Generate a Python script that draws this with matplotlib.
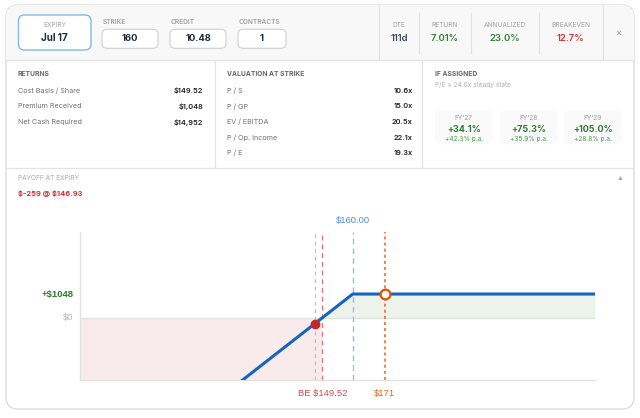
import numpy as np
import matplotlib
matplotlib.use("Agg")
import matplotlib.pyplot as plt
from matplotlib.patches import FancyBboxPatch, Rectangle

plt.rcParams['font.family'] = ['Inter', 'DejaVu Sans']

# inputs row
input_labels = ['STRIKE', 'CREDIT', 'CONTRACTS']
input_values = ['160', '10.48', '1']
expiry = 'Jul 17'

# summary stats
stat_labels = ['DTE', 'RETURN', 'ANNUALIZED', 'BREAKEVEN']
stat_values = ['111d', '7.01%', '23.0%', '12.7%']
stat_colors = ['#3b4a5e', '#2e7d32', '#2e7d32', '#d32f2f']

# returns table
returns_labels = ['Cost Basis / Share', 'Premium Received', 'Net Cash Required']
returns_values = ['$149.52', '$1,048', '$14,952']

# valuation table
val_labels = ['P / S', 'P / GP', 'EV / EBITDA', 'P / Op. Income', 'P / E']
val_values = ['10.6x', '15.0x', '20.5x', '22.1x', '19.3x']

# if assigned
fy_labels = ["FY'27", "FY'28", "FY'29"]
fy_total = ['+34.1%', '+75.3%', '+105.0%']
fy_pa = ['+42.3% p.a.', '+35.9% p.a.', '+28.8% p.a.']

# payoff
strike = 160.0
credit = 10.48
contracts = 1
breakeven = 149.52
current_price = 146.93
target_price = 171.0
price_lo, price_hi = 66.0, 243.5
pnl_lo, pnl_hi = -2725, 3800

fig = plt.figure(figsize=(6.4, 4.18), dpi=100)
fig.patch.set_facecolor('white')
ui = fig.add_axes([0, 0, 1, 1])
ui.set_xlim(0, 640)
ui.set_ylim(418, 0)
ui.axis('off')

line_c = '#e3e3e3'
card = FancyBboxPatch((6, 5), 628, 404, boxstyle='round,pad=0,rounding_size=12',
                      facecolor='white', edgecolor='#d9d9d9', lw=0.9, zorder=1)
ui.add_patch(card)
hdr = Rectangle((6, 5), 628, 54.5, facecolor='#f8f8f8', edgecolor='none', zorder=1.5)
ui.add_patch(hdr)
hdr.set_clip_path(card)

ui.plot([6, 634], [59.5, 59.5], color=line_c, lw=0.9, zorder=2)
ui.plot([6, 634], [168, 168], color=line_c, lw=0.9, zorder=2)
for x in [379, 603]:
    ui.plot([x, x], [5, 59.5], color=line_c, lw=0.9, zorder=2)
for x in [419, 471, 539]:
    ui.plot([x, x], [13, 53], color=line_c, lw=0.9, zorder=2)
for x in [215, 422]:
    ui.plot([x, x], [59.5, 168], color=line_c, lw=0.9, zorder=2)

lab_c = '#a0a0a0'

# expiry box
ui.add_patch(FancyBboxPatch((18.5, 15), 72.5, 35, boxstyle='round,pad=0,rounding_size=6',
                            facecolor='white', edgecolor='#86b8e8', lw=1.0, zorder=3))
ui.text(54.7, 25.3, 'EXPIRY', ha='center', va='center', fontsize=4.7, color=lab_c, zorder=4)
ui.text(54.7, 37.8, expiry, ha='center', va='center', fontsize=7, fontweight='bold', color='#1f2a3a', zorder=4)

box_x = [102, 170, 238]
box_w = [56, 56, 48]
for x0, w, lab, val in zip(box_x, box_w, input_labels, input_values):
    ui.text(x0 + 1, 21.7, lab, ha='left', va='center', fontsize=4.7, fontweight='semibold', color=lab_c, zorder=4)
    ui.add_patch(FancyBboxPatch((x0, 29.3), w, 19, boxstyle='round,pad=0,rounding_size=5',
                                facecolor='white', edgecolor='#cfcfcf', lw=0.8, zorder=3))
    ui.text(x0 + w / 2, 38.6, val, ha='center', va='center', fontsize=6.8, fontweight='bold', color='#1f2a3a', zorder=4)

stat_x = [399, 445, 504.5, 570.5]
for x, lab, val, c in zip(stat_x, stat_labels, stat_values, stat_colors):
    ui.text(x, 25.3, lab, ha='center', va='center', fontsize=4.7, color=lab_c, zorder=4)
    ui.text(x, 38.6, val, ha='center', va='center', fontsize=6.8, fontweight='semibold', color=c, zorder=4)
ui.text(619, 33, '\u00d7', ha='center', va='center', fontsize=7, color='#9a9a9a', zorder=4)

# returns
sec_c = '#666666'
row_c = '#707070'
val_c = '#1f1f1f'
ui.text(18, 74.3, 'RETURNS', ha='left', va='center', fontsize=4.8, fontweight='bold', color=sec_c)
for i, (lab, val) in enumerate(zip(returns_labels, returns_values)):
    y = 90.7 + i * 15.65
    ui.text(18, y, lab, ha='left', va='center', fontsize=5.2, color=row_c)
    ui.text(203.5, y, val, ha='right', va='center', fontsize=5.3, fontweight='semibold', color=val_c)

ui.text(227, 74.3, 'VALUATION AT STRIKE', ha='left', va='center', fontsize=4.8, fontweight='bold', color=sec_c)
for i, (lab, val) in enumerate(zip(val_labels, val_values)):
    y = 90.7 + i * 15.6
    ui.text(227, y, lab, ha='left', va='center', fontsize=5.2, color=row_c)
    ui.text(412.5, y, val, ha='right', va='center', fontsize=5.3, fontweight='semibold', color=val_c)

ui.text(435, 74.3, 'IF ASSIGNED', ha='left', va='center', fontsize=4.8, fontweight='bold', color=sec_c)
ui.text(435, 84.8, 'P/E \u00d7 24.0x steady state', ha='left', va='center', fontsize=4.7, color='#b0b0b0')
fy_x = [435, 500, 564]
for x0, lab, tot, pa in zip(fy_x, fy_labels, fy_total, fy_pa):
    ui.add_patch(FancyBboxPatch((x0, 110.7), 57.5, 33.6, boxstyle='round,pad=0,rounding_size=5',
                                facecolor='#fafafa', edgecolor='none', zorder=3))
    cx = x0 + 28.75
    ui.text(cx, 117.8, lab, ha='center', va='center', fontsize=4.7, color='#9a9a9a', zorder=4)
    ui.text(cx, 129, tot, ha='center', va='center', fontsize=6.5, fontweight='bold', color='#2e7d32', zorder=4)
    ui.text(cx, 139.2, pa, ha='center', va='center', fontsize=4.7, color='#43a047', zorder=4)

ui.text(18, 178.5, 'PAYOFF AT EXPIRY', ha='left', va='center', fontsize=4.7, color='#a8a8a8')
ui.text(620, 179, '\u25b2', ha='center', va='center', fontsize=3.5, color='#a8a8a8')
cur_pnl = (current_price - breakeven) * 100 * contracts
ui.text(18, 193.3, '\\$%d @ \\$%.2f' % (round(cur_pnl), current_price), ha='left', va='center',
        fontsize=5.4, fontweight='bold', color='#d32f2f')

# payoff chart
ax = fig.add_axes([80 / 640, (418 - 379.5) / 418, 515 / 640, 147.8 / 418])
ax.set_xlim(price_lo, price_hi)
ax.set_ylim(pnl_lo, pnl_hi)
ax.set_facecolor('none')
for s in ['top', 'right']:
    ax.spines[s].set_visible(False)
for s in ['left', 'bottom']:
    ax.spines[s].set_color('#e2e2e2')
    ax.spines[s].set_linewidth(1.0)
ax.set_xticks([])
ax.set_yticks([])

prices = np.array([price_lo, strike, price_hi])
pnl = (np.minimum(prices, strike) - breakeven) * 100 * contracts
premium = credit * 100 * contracts

ax.fill_between([price_lo, breakeven], pnl_lo, 0, color='#f9ebeb', lw=0, zorder=1)
gp = np.array([breakeven, strike, price_hi])
ax.fill_between(gp, 0, (np.minimum(gp, strike) - breakeven) * 100 * contracts, color='#ebf3eb', lw=0, zorder=1)
ax.axhline(0, color='#e2e2e2', lw=1.0, zorder=2)

ax.axvline(current_price, color='#bdbdbd', lw=0.9, ls=(0, (3, 3)), zorder=2)
ax.axvline(breakeven, color='#e57373', lw=0.9, ls=(0, (4, 3)), zorder=2)
ax.axvline(strike, color='#90bfec', lw=1.0, ls=(0, (4, 3)), zorder=2)
ax.axvline(target_price, color='#e8661a', lw=1.1, ls=(0, (2, 2)), zorder=2)

ax.plot(prices, pnl, color='#1565c0', lw=2.2, solid_capstyle='butt', zorder=4, clip_on=True)
ax.plot([current_price], [cur_pnl], 'o', ms=6, color='#c62828', zorder=5)
ax.plot([target_price], [premium], 'o', ms=7, mfc='white', mec='#e65100', mew=1.6, zorder=5)

ui.text(80 + (strike - price_lo) / (price_hi - price_lo) * 515, 220.8, '$%.2f' % strike,
        ha='center', va='center', fontsize=6.8, color='#4a90d9', family=['Liberation Sans'])
tr = ax.get_xaxis_transform()
ax.text(breakeven, -0.095, 'BE $%.2f' % breakeven, transform=tr, ha='center', va='center',
        fontsize=6.8, color='#e04848', family=['Liberation Sans'], clip_on=False)
ax.text(target_price, -0.095, '$%d' % target_price, transform=tr, ha='center', va='center',
        fontsize=6.8, color='#e8661a', family=['Liberation Sans'], clip_on=False)
ytr = ax.get_yaxis_transform()
ax.text(-0.012, premium, '+$%d' % premium, transform=ytr, ha='right', va='center',
        fontsize=6.8, fontweight='bold', color='#2e7d32', family=['Liberation Sans'], clip_on=False)
ax.text(-0.012, 0, '$0', transform=ytr, ha='right', va='center',
        fontsize=6.8, color='#b5b5b5', family=['Liberation Sans'], clip_on=False)

fig.savefig('out.png', dpi=100, facecolor='white')
